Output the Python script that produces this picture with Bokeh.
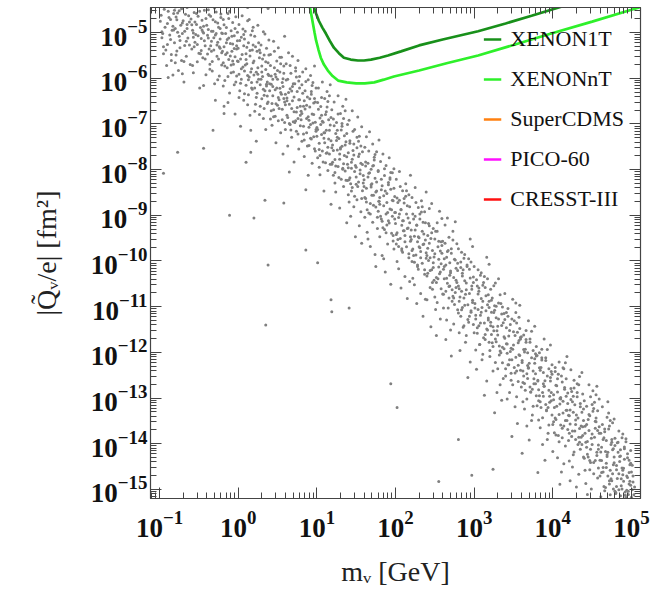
import numpy as np
from bokeh.plotting import figure
from bokeh.models import (LogAxis, Legend, LegendItem, Range1d, FixedTicker,
                          CustomJSTickFormatter)
from bokeh.embed import file_html
from bokeh.resources import INLINE

# ---------------- data (log10 values) ----------------
# exclusion curves: log10(m_V / GeV), log10(|Q_V/e| / fm^2)
xenon1t_log_m = [0.935, 0.96, 0.99, 1.025, 1.07, 1.115, 1.165, 1.217, 1.28, 1.344, 1.43,
                 1.522, 1.60, 1.688, 1.80, 1.904, 2.07, 2.30, 2.60, 3.05, 3.40, 3.73, 4.15, 4.40]
xenon1t_log_q = [-3.90, -4.43, -4.58, -4.74, -4.89, -5.02, -5.18, -5.33, -5.45, -5.55, -5.59,
                 -5.61, -5.61, -5.59, -5.55, -5.50, -5.41, -5.28, -5.15, -4.97, -4.80, -4.63, -4.41, -4.28]
xenonnt_log_m = [0.88, 0.91, 0.93, 0.95, 0.97, 0.99, 1.02, 1.05, 1.09, 1.14, 1.20, 1.27, 1.38,
                 1.50, 1.61, 1.73, 1.85, 1.98, 2.30, 2.65, 3.05, 3.50, 3.98, 4.50, 5.00, 5.13]
xenonnt_log_q = [-3.90, -4.43, -4.61, -4.80, -4.99, -5.17, -5.37, -5.55, -5.70, -5.83, -5.95, -6.05, -6.09,
                 -6.11, -6.11, -6.09, -6.03, -5.96, -5.83, -5.67, -5.50, -5.27, -5.02, -4.76, -4.50, -4.43]
supercdms_log_m, supercdms_log_q = [], []
pico60_log_m, pico60_log_q = [], []
cresst_log_m, cresst_log_q = [], []

legend_labels = ["XENON1T", "XENONnT", "SuperCDMS", "PICO-60", "CRESST-III"]

x_tick_exponents = [-1, 0, 1, 2, 3, 4, 5]
y_tick_exponents = [-15, -14, -13, -12, -11, -10, -9, -8, -7, -6, -5]

# parameter-scan points (log10 m, log10 Q), grouped by mass decade
scan_a = [(-0.98,-4.62),(-0.95,-5.31),(-0.93,-4.88),(-0.91,-5.72),(-0.89,-4.53),(-0.87,-5.05),(-0.86,-4.71),
          (-0.85,-5.48),(-0.84,-4.95),(-0.83,-5.93),(-0.82,-4.58),(-0.81,-5.22),(-0.97,-5.11),(-0.90,-4.80),
          (-0.79,-4.66),(-0.78,-5.40),(-0.77,-4.99),(-0.76,-5.83),(-0.75,-4.52),(-0.74,-5.17),(-0.73,-4.84),
          (-0.72,-5.61),(-0.71,-5.02),(-0.70,-4.74),(-0.69,-6.08),(-0.68,-5.28),(-0.67,-4.60),(-0.66,-5.52),
          (-0.65,-4.91),(-0.64,-5.12),(-0.62,-4.77),(-0.61,-5.70),
          (-0.60,-4.70),(-0.59,-5.36),(-0.58,-4.95),(-0.57,-5.88),(-0.56,-4.56),(-0.55,-5.21),(-0.54,-5.04),
          (-0.53,-4.82),(-0.52,-5.64),(-0.51,-4.64),(-0.50,-5.45),(-0.49,-6.21),(-0.48,-4.89),(-0.47,-5.13),
          (-0.46,-4.73),(-0.45,-5.55),(-0.44,-5.01),(-0.43,-4.51),(-0.42,-5.29),(-0.41,-5.92),(-0.57,-5.10),
          (-0.45,-4.98),
          (-0.40,-4.84),(-0.39,-5.47),(-0.38,-5.12),(-0.37,-4.61),(-0.36,-5.80),(-0.35,-5.29),(-0.34,-4.97),
          (-0.33,-5.63),(-0.32,-4.72),(-0.31,-5.38),(-0.30,-6.12),(-0.29,-5.05),(-0.28,-4.55),(-0.27,-5.52),
          (-0.26,-5.21),(-0.25,-4.88),(-0.24,-5.95),(-0.23,-5.34),(-0.22,-4.67),(-0.21,-5.71),(-0.38,-4.93),
          (-0.34,-5.41),(-0.29,-6.48),(-0.26,-4.79),(-0.23,-5.14),(-0.21,-5.01),
          (-0.20,-5.02),(-0.19,-5.66),(-0.19,-4.71),(-0.18,-5.31),(-0.17,-6.05),(-0.16,-5.48),(-0.15,-4.89),
          (-0.14,-5.77),(-0.14,-5.15),(-0.13,-4.58),(-0.12,-5.59),(-0.11,-6.32),(-0.10,-5.24),(-0.09,-4.96),
          (-0.09,-5.88),(-0.08,-5.41),(-0.07,-4.78),(-0.06,-5.69),(-0.05,-6.14),(-0.05,-5.07),(-0.04,-5.53),
          (-0.03,-4.65),(-0.02,-5.36),(-0.02,-5.95),(-0.01,-4.99),(-0.18,-6.61),(-0.12,-5.12),(-0.07,-5.25),
          (-0.04,-6.78),(-0.01,-5.62)]
scan_b = [(0.00,-5.34),(0.01,-5.91),(0.01,-4.82),(0.02,-6.27),(0.03,-5.58),(0.04,-5.10),(0.04,-6.02),
          (0.05,-4.63),(0.06,-5.75),(0.07,-6.48),(0.07,-5.29),(0.08,-5.84),(0.09,-4.97),(0.10,-6.15),
          (0.10,-5.46),(0.11,-5.68),(0.12,-4.74),(0.13,-6.36),(0.13,-5.22),(0.14,-5.97),(0.15,-5.51),
          (0.15,-6.81),(0.16,-5.05),(0.17,-5.79),(0.17,-6.09),(0.18,-5.38),(0.19,-4.88),(0.19,-5.66),
          (0.03,-7.05),(0.08,-5.14),(0.12,-6.58),(0.18,-6.24),
          (0.20,-5.62),(0.21,-6.21),(0.21,-5.08),(0.22,-6.57),(0.23,-5.87),(0.24,-5.41),(0.24,-6.33),
          (0.25,-4.84),(0.26,-6.02),(0.27,-6.79),(0.27,-5.55),(0.28,-6.14),(0.29,-5.27),(0.30,-6.45),
          (0.30,-5.73),(0.31,-5.96),(0.32,-4.98),(0.33,-6.66),(0.33,-5.49),(0.34,-6.27),(0.35,-5.81),
          (0.35,-7.12),(0.36,-5.34),(0.37,-6.08),(0.37,-6.39),(0.38,-5.66),(0.39,-5.16),(0.39,-5.94),
          (0.23,-7.38),(0.28,-5.44),(0.32,-6.88),(0.38,-6.52),(0.25,-5.91),(0.36,-6.17),
          (0.40,-6.12),(0.41,-5.48),(0.42,-6.71),(0.42,-5.95),(0.43,-7.03),(0.44,-6.38),(0.45,-5.19),
          (0.45,-6.84),(0.46,-5.77),(0.47,-6.25),(0.48,-7.41),(0.48,-6.56),(0.49,-5.62),(0.50,-6.02),
          (0.51,-6.93),(0.51,-5.33),(0.52,-6.47),(0.53,-5.86),(0.54,-7.19),(0.54,-6.31),(0.55,-5.54),
          (0.56,-6.68),(0.56,-6.09),(0.57,-7.66),(0.58,-5.73),(0.58,-6.44),(0.59,-5.08),(0.59,-6.97),
          (0.44,-6.18),(0.47,-5.91),(0.50,-6.59),(0.53,-6.22),(0.57,-6.01),(0.41,-6.89),
          (0.60,-6.35),(0.60,-7.12),(0.61,-5.68),(0.62,-6.81),(0.63,-6.02),(0.63,-7.48),(0.64,-5.44),
          (0.65,-6.57),(0.66,-7.01),(0.66,-6.23),(0.67,-5.89),(0.68,-7.29),(0.68,-6.66),(0.69,-5.52),
          (0.70,-6.95),(0.71,-6.41),(0.71,-7.83),(0.72,-6.12),(0.73,-5.77),(0.74,-6.74),(0.74,-7.16),
          (0.75,-6.29),(0.76,-5.61),(0.76,-6.88),(0.77,-7.55),(0.78,-6.47),(0.78,-5.96),(0.79,-7.04),
          (0.62,-6.49),(0.65,-8.05),(0.69,-6.18),(0.73,-6.93),(0.77,-6.06),(0.79,-6.61),
          (0.80,-6.72),(0.81,-6.14),(0.81,-7.38),(0.82,-5.86),(0.83,-7.05),(0.84,-6.49),(0.84,-7.71),
          (0.85,-6.27),(0.86,-5.79),(0.87,-7.19),(0.87,-6.88),(0.88,-6.41),(0.89,-8.12),(0.89,-6.03),
          (0.90,-7.47),(0.91,-6.63),(0.92,-5.94),(0.92,-7.01),(0.93,-6.35),(0.94,-7.86),(0.94,-6.78),
          (0.95,-6.09),(0.96,-7.28),(0.96,-6.54),(0.97,-5.73),(0.98,-6.96),(0.98,-7.59),(0.99,-6.21),
          (0.83,-6.61),(0.86,-8.44),(0.90,-6.92),(0.93,-7.33),(0.97,-6.44),(0.99,-7.12)]
scan_c = [(1.00,-7.08),(1.01,-6.53),(1.01,-7.74),(1.02,-6.21),(1.03,-7.42),(1.04,-6.87),(1.04,-8.11),
          (1.05,-6.62),(1.06,-7.23),(1.07,-6.08),(1.07,-7.59),(1.08,-6.96),(1.09,-8.47),(1.09,-7.31),
          (1.10,-6.44),(1.11,-7.85),(1.12,-6.73),(1.12,-7.14),(1.13,-6.29),(1.14,-8.02),(1.14,-7.51),
          (1.15,-6.91),(1.16,-7.66),(1.16,-6.38),(1.17,-7.02),(1.18,-8.76),(1.18,-7.37),(1.19,-6.69),
          (1.03,-7.95),(1.06,-6.81),(1.10,-7.19),(1.13,-7.63),(1.17,-6.14),(1.19,-7.88),
          (1.20,-7.46),(1.21,-6.89),(1.21,-8.12),(1.22,-6.52),(1.23,-7.78),(1.24,-7.21),(1.24,-8.49),
          (1.25,-6.97),(1.26,-7.57),(1.27,-6.38),(1.27,-7.93),(1.28,-7.32),(1.29,-8.84),(1.29,-7.66),
          (1.30,-6.77),(1.31,-8.21),(1.32,-7.05),(1.32,-7.49),(1.33,-6.61),(1.34,-8.37),(1.34,-7.87),
          (1.35,-7.26),(1.36,-8.03),(1.36,-6.71),(1.37,-7.39),(1.38,-9.16),(1.38,-7.72),(1.39,-7.01),
          (1.23,-8.29),(1.26,-7.14),(1.30,-7.55),(1.33,-7.99),(1.37,-6.46),(1.39,-8.24),
          (1.40,-7.63),(1.40,-8.55),(1.41,-6.92),(1.42,-8.18),(1.42,-7.37),(1.43,-9.02),(1.44,-7.84),
          (1.45,-6.71),(1.45,-8.39),(1.46,-7.58),(1.47,-8.81),(1.48,-7.12),(1.48,-8.04),(1.49,-9.47),
          (1.50,-7.95),(1.51,-7.29),(1.51,-8.66),(1.52,-6.85),(1.53,-8.27),(1.53,-7.71),(1.54,-9.23),
          (1.55,-8.01),(1.56,-7.48),(1.56,-8.92),(1.57,-7.06),(1.58,-8.46),(1.58,-7.89),(1.59,-8.13),
          (1.41,-8.71),(1.44,-7.97),(1.47,-7.44),(1.50,-8.32),(1.54,-7.66),(1.57,-9.61),
          (1.60,-8.22),(1.61,-7.51),(1.61,-9.04),(1.62,-8.63),(1.63,-7.28),(1.63,-8.41),(1.64,-9.37),
          (1.65,-7.86),(1.66,-8.95),(1.66,-8.08),(1.67,-7.17),(1.68,-8.74),(1.68,-9.68),(1.69,-7.99),
          (1.70,-8.31),(1.71,-7.44),(1.71,-9.15),(1.72,-8.56),(1.73,-7.73),(1.74,-8.19),(1.74,-9.86),
          (1.75,-8.82),(1.76,-7.61),(1.76,-8.47),(1.77,-9.29),(1.78,-8.04),(1.79,-7.35),(1.79,-8.69),
          (1.62,-7.92),(1.65,-9.52),(1.69,-8.38),(1.72,-7.91),(1.75,-10.12),(1.78,-8.91),
          (1.80,-8.61),(1.80,-9.47),(1.81,-7.82),(1.82,-9.08),(1.83,-8.35),(1.83,-9.88),(1.84,-7.66),
          (1.85,-8.79),(1.86,-9.31),(1.86,-8.13),(1.87,-10.24),(1.88,-8.97),(1.88,-7.91),(1.89,-8.52),
          (1.90,-9.63),(1.91,-8.28),(1.91,-9.12),(1.92,-7.74),(1.93,-8.86),(1.94,-10.51),(1.94,-8.43),
          (1.95,-9.39),(1.96,-8.07),(1.96,-9.02),(1.97,-8.68),(1.98,-7.98),(1.98,-9.74),(1.99,-8.59),
          (1.82,-8.44),(1.85,-9.95),(1.89,-9.21),(1.93,-8.21),(1.97,-9.56),(1.99,-8.94)]
scan_d = [(2.00,-8.94),(2.01,-9.63),(2.01,-8.21),(2.02,-9.38),(2.03,-8.72),(2.04,-10.17),(2.04,-9.05),
          (2.05,-8.04),(2.06,-9.51),(2.07,-8.88),(2.07,-10.59),(2.08,-9.22),(2.09,-8.46),(2.09,-9.81),
          (2.10,-9.12),(2.11,-8.63),(2.12,-10.34),(2.12,-9.44),(2.13,-8.31),(2.14,-9.69),(2.14,-8.97),
          (2.15,-10.82),(2.16,-9.28),(2.17,-8.55),(2.17,-9.93),(2.18,-9.16),(2.19,-8.12),(2.19,-9.57),
          (2.02,-10.01),(2.05,-8.67),(2.08,-9.73),(2.11,-9.34),(2.15,-8.79),(2.18,-10.45),
          (2.20,-9.32),(2.21,-10.01),(2.21,-8.61),(2.22,-9.74),(2.23,-9.08),(2.24,-10.52),(2.24,-9.46),
          (2.25,-8.39),(2.26,-9.87),(2.27,-9.21),(2.27,-10.93),(2.28,-9.58),(2.29,-8.83),(2.29,-10.18),
          (2.30,-9.49),(2.31,-8.97),(2.32,-10.71),(2.32,-9.79),(2.33,-8.68),(2.34,-10.05),(2.34,-9.35),
          (2.35,-11.21),(2.36,-9.63),(2.37,-8.92),(2.37,-10.29),(2.38,-9.54),(2.39,-8.49),(2.39,-9.94),
          (2.22,-10.38),(2.25,-9.02),(2.28,-10.09),(2.31,-9.71),(2.35,-9.15),(2.38,-10.84),
          (2.41,-10.27),(2.43,-9.61),(2.40,-10.85),(2.46,-8.74),(2.44,-9.93),(2.49,-10.42),(2.42,-9.18),
          (2.51,-11.06),(2.47,-9.77),(2.55,-10.13),(2.53,-9.35),(2.58,-10.61),(2.45,-11.44),(2.50,-9.52),
          (2.56,-8.91),(2.48,-10.04),(2.59,-9.83),(2.52,-10.36),(2.57,-11.27),(2.44,-10.58),(2.54,-9.69),
          (2.41,-9.44),(2.46,-10.19),(2.59,-9.07),(2.50,-10.79),(2.43,-8.85),(2.55,-9.96),(2.52,-11.63),
          (2.48,-9.29),(2.57,-10.24),(2.40,-9.88),(2.53,-10.91),(2.47,-10.47),(2.58,-9.58),
          (2.62,-10.12),(2.68,-10.81),(2.60,-9.57),(2.74,-10.36),(2.65,-11.29),(2.71,-9.83),(2.77,-10.58),
          (2.63,-9.21),(2.69,-10.04),(2.79,-11.07),(2.66,-10.49),(2.73,-9.35),(2.61,-10.73),(2.76,-9.98),
          (2.64,-11.72),(2.70,-10.26),(2.78,-9.62),(2.67,-9.77),(2.75,-10.95),(2.72,-10.63),(2.62,-9.95),
          (2.79,-10.21),(2.65,-10.38),(2.70,-11.51),(2.76,-9.14),(2.68,-9.48),(2.73,-10.77),(2.61,-11.03),
          (2.77,-10.42),(2.64,-10.09),(2.71,-12.08),(2.66,-9.06),(2.74,-11.38),(2.69,-10.55),
          (2.80,-10.55),(2.83,-11.21),(2.87,-9.94),(2.81,-10.88),(2.90,-11.63),(2.85,-10.27),(2.94,-10.71),
          (2.98,-9.68),(2.82,-11.96),(2.88,-10.43),(2.96,-11.12),(2.84,-9.81),(2.92,-10.96),(2.99,-10.35),
          (2.86,-11.45),(2.91,-10.09),(2.95,-9.52),(2.89,-11.78),(2.97,-10.62),(2.83,-10.14),(2.93,-11.34),
          (2.80,-9.73),(2.87,-10.81),(2.95,-12.21),(2.90,-10.48),(2.85,-11.02),(2.98,-10.91),(2.81,-11.57),
          (2.94,-10.18),(2.88,-9.86),(2.92,-12.55),(2.96,-10.02),(2.84,-10.66),(2.99,-11.39)]
scan_e = [(3.01,-10.93),(3.04,-11.58),(3.08,-10.31),(3.02,-11.27),(3.11,-12.04),(3.06,-10.66),(3.15,-11.09),
          (3.19,-10.07),(3.03,-12.37),(3.09,-10.82),(3.17,-11.51),(3.05,-10.19),(3.13,-11.36),(3.18,-10.74),
          (3.07,-11.83),(3.12,-10.47),(3.16,-9.92),(3.10,-12.16),(3.19,-11.02),(3.04,-10.55),(3.14,-11.72),
          (3.00,-10.12),(3.08,-11.19),(3.16,-12.63),(3.11,-10.88),(3.06,-11.42),(3.18,-11.29),(3.02,-11.95),
          (3.14,-10.58),(3.09,-10.26),(3.13,-12.94),(3.17,-10.39),(3.05,-11.06),(3.19,-11.78),
          (3.21,-11.34),(3.27,-10.48),(3.33,-11.97),(3.24,-12.41),(3.38,-11.15),(3.22,-10.86),(3.30,-11.62),
          (3.36,-12.23),(3.26,-11.08),(3.39,-10.71),(3.29,-12.88),(3.23,-11.79),(3.35,-11.41),(3.31,-10.39),
          (3.25,-11.53),(3.37,-12.57),(3.28,-11.24),(3.20,-12.09),(3.34,-10.93),(3.32,-11.86),(3.26,-13.32),
          (3.39,-11.69),(3.21,-10.62),(3.33,-12.71),(3.28,-10.99),(3.36,-11.01),(3.24,-11.44),(3.30,-12.36),
          (3.38,-11.92),(3.22,-11.12),(3.35,-13.05),(3.27,-11.71),(3.31,-11.27),(3.25,-10.54),
          (3.42,-11.82),(3.47,-12.46),(3.41,-11.13),(3.53,-12.11),(3.58,-10.97),(3.45,-12.88),(3.50,-11.55),
          (3.56,-12.64),(3.43,-12.27),(3.49,-10.84),(3.59,-11.71),(3.52,-13.19),(3.46,-11.98),(3.54,-11.36),
          (3.40,-12.52),(3.57,-12.05),(3.48,-11.27),(3.55,-13.56),(3.44,-11.64),(3.51,-12.33),(3.58,-11.48),
          (3.42,-13.02),(3.47,-11.91),(3.53,-10.92),(3.49,-12.71),(3.56,-11.79),(3.41,-11.46),(3.59,-12.39),
          (3.45,-12.16),(3.52,-11.63),(3.48,-13.84),(3.54,-12.97),(3.43,-11.04),(3.57,-11.23),
          (3.61,-12.18),(3.66,-11.52),(3.72,-12.87),(3.64,-13.24),(3.78,-12.03),(3.69,-11.31),(3.62,-12.66),
          (3.75,-12.41),(3.67,-13.61),(3.71,-11.78),(3.79,-12.95),(3.63,-11.94),(3.74,-13.37),(3.68,-12.29),
          (3.60,-11.66),(3.77,-11.43),(3.65,-12.83),(3.73,-12.12),(3.70,-13.92),(3.76,-12.58),(3.62,-13.08),
          (3.79,-11.87),(3.67,-12.47),(3.71,-12.76),(3.64,-11.99),(3.75,-13.18),(3.69,-12.35),(3.61,-14.21),
          (3.77,-12.24),(3.66,-11.72),(3.73,-13.49),(3.68,-12.01),(3.63,-12.52),(3.78,-12.69),
          (3.81,-12.61),(3.86,-11.93),(3.92,-13.28),(3.84,-13.65),(3.98,-12.42),(3.89,-11.71),(3.82,-13.06),
          (3.95,-12.83),(3.87,-14.02),(3.91,-12.18),(3.99,-13.37),(3.83,-12.34),(3.94,-13.77),(3.88,-12.69),
          (3.80,-12.07),(3.97,-11.84),(3.85,-13.21),(3.93,-12.52),(3.90,-14.36),(3.96,-12.96),(3.82,-13.48),
          (3.99,-12.27),(3.87,-12.88),(3.91,-13.14),(3.84,-12.39),(3.95,-13.59),(3.89,-12.74),(3.81,-14.63),
          (3.97,-12.63),(3.86,-12.12),(3.93,-13.91),(3.88,-12.44),(3.83,-12.95),(3.98,-13.06)]
scan_f = [(4.03,-13.44),(4.17,-12.58),(4.08,-12.21),(4.12,-13.87),(4.01,-12.93),(4.19,-13.12),(4.06,-14.31),
          (4.14,-12.36),(4.10,-13.59),(4.04,-12.72),(4.16,-14.05),(4.09,-13.01),(4.02,-13.76),(4.18,-12.09),
          (4.13,-13.33),(4.07,-12.48),(4.11,-14.62),(4.05,-13.18),(4.15,-12.81),(4.00,-14.17),(4.19,-13.69),
          (4.08,-13.96),(4.12,-12.65),(4.03,-12.33),(4.17,-13.27),(4.06,-12.87),(4.14,-14.44),(4.10,-12.99),
          (4.01,-13.52),(4.16,-12.23),(4.09,-14.89),(4.04,-13.81),(4.13,-13.07),(4.18,-13.49),
          (4.22,-13.26),(4.35,-14.12),(4.27,-12.61),(4.39,-13.49),(4.21,-14.38),(4.31,-12.97),(4.25,-13.72),
          (4.37,-12.44),(4.29,-13.91),(4.24,-12.86),(4.33,-14.67),(4.20,-13.38),(4.38,-13.82),(4.28,-13.15),
          (4.34,-12.53),(4.26,-14.24),(4.36,-13.61),(4.23,-13.03),(4.30,-14.95),(4.32,-13.44),(4.27,-12.78),
          (4.39,-14.29),(4.21,-13.77),(4.35,-13.19),(4.25,-14.51),(4.31,-12.69),(4.29,-13.58),(4.37,-14.02),
          (4.23,-12.38),(4.33,-13.86),(4.26,-13.31),(4.38,-12.91),(4.22,-14.81),(4.34,-13.67),
          (4.41,-13.62),(4.48,-14.41),(4.55,-12.93),(4.43,-14.08),(4.59,-13.77),(4.46,-12.71),(4.52,-14.66),
          (4.57,-13.28),(4.44,-13.95),(4.50,-13.14),(4.58,-14.53),(4.42,-14.87),(4.54,-13.51),(4.47,-13.39),
          (4.56,-14.19),(4.40,-13.06),(4.51,-12.84),(4.49,-14.99),(4.53,-13.86),(4.45,-14.29),(4.59,-13.02),
          (4.43,-13.58),(4.57,-14.75),(4.50,-14.02),(4.46,-13.71),(4.55,-13.44),(4.41,-14.58),(4.52,-13.23),
          (4.48,-12.97),(4.58,-14.12),(4.44,-15.11),(4.54,-13.66),(4.47,-14.37),(4.56,-12.74),
          (4.62,-14.08),(4.69,-13.42),(4.75,-14.81),(4.61,-13.77),(4.78,-14.29),(4.66,-15.03),(4.72,-13.61),
          (4.64,-14.52),(4.79,-13.88),(4.67,-14.17),(4.73,-15.12),(4.60,-14.36),(4.76,-13.54),(4.70,-14.71),
          (4.63,-13.19),(4.77,-14.46),(4.68,-13.93),(4.74,-14.02),(4.65,-14.94),(4.71,-13.33),(4.79,-15.04),
          (4.62,-14.63),(4.75,-13.97),(4.66,-13.68),(4.72,-14.88),(4.69,-14.24),(4.78,-13.46),(4.64,-13.91),
          (4.73,-14.58),(4.61,-15.16),(4.76,-14.13),(4.68,-14.43),(4.70,-13.08),(4.77,-14.99),
          (4.81,-14.48),(4.88,-13.87),(4.94,-15.02),(4.83,-14.19),(4.97,-14.63),(4.86,-15.14),(4.91,-14.34),
          (4.84,-13.72),(4.99,-14.91),(4.87,-14.77),(4.93,-13.96),(4.80,-15.09),(4.95,-14.22),(4.89,-14.58),
          (4.82,-13.98),(4.96,-15.11),(4.90,-14.82),(4.85,-14.39),(4.98,-14.46),(4.92,-15.06),(4.84,-14.66),
          (4.89,-13.79),(4.95,-14.74),(4.81,-14.94),(4.91,-14.11),(4.97,-14.88),(4.86,-14.27),(4.93,-15.18),
          (4.88,-14.53),(4.99,-14.15),
          (5.00,-14.62),(5.01,-15.01),(5.02,-14.84),(5.03,-15.12),(5.01,-14.47),(5.04,-14.95),(5.00,-15.17),
          (5.02,-14.71)]
scan_core_low = [(-0.99,-4.75),(-0.96,-5.02),(-0.94,-4.49),(-0.92,-5.38),(-0.88,-4.67),(-0.86,-5.15),(-0.83,-4.86),
          (-0.81,-4.51),(-0.97,-4.98),(-0.85,-5.61),(-0.90,-5.26),(-0.82,-4.94),
          (-0.80,-4.91),(-0.77,-4.57),(-0.74,-5.33),(-0.71,-4.79),(-0.68,-4.97),(-0.66,-5.19),(-0.63,-4.63),
          (-0.79,-5.49),(-0.75,-5.08),(-0.72,-4.48),(-0.69,-5.63),(-0.65,-4.82),(-0.62,-5.27),(-0.78,-4.72),
          (-0.59,-4.83),(-0.56,-5.31),(-0.53,-4.58),(-0.51,-5.07),(-0.48,-5.46),(-0.46,-4.94),(-0.43,-5.18),
          (-0.41,-4.69),(-0.58,-5.72),(-0.55,-4.77),(-0.52,-5.26),(-0.49,-4.53),(-0.47,-5.39),(-0.44,-4.86),
          (-0.42,-5.58),(-0.57,-5.01),
          (-0.39,-5.06),(-0.37,-5.36),(-0.35,-4.64),(-0.33,-5.84),(-0.31,-5.11),(-0.29,-4.76),(-0.27,-5.27),
          (-0.25,-5.58),(-0.23,-4.91),(-0.21,-5.44),(-0.38,-4.50),(-0.36,-5.69),(-0.34,-5.19),(-0.32,-4.97),
          (-0.28,-5.02),(-0.26,-6.03),(-0.24,-5.31),(-0.22,-4.59),
          (-0.20,-5.41),(-0.18,-4.83),(-0.17,-5.73),(-0.15,-5.22),(-0.13,-5.96),(-0.12,-4.69),(-0.10,-5.51),
          (-0.08,-5.08),(-0.06,-5.86),(-0.04,-4.91),(-0.02,-5.29),(-0.19,-6.17),(-0.16,-5.02),(-0.14,-5.44),
          (-0.11,-4.53),(-0.07,-5.62),(-0.05,-5.35),(-0.03,-6.08),(-0.01,-5.18),(-0.09,-5.71),
          (0.00,-5.63),(0.02,-5.17),(0.03,-6.11),(0.05,-5.48),(0.06,-4.92),(0.08,-6.34),(0.09,-5.71),
          (0.11,-5.32),(0.12,-5.94),(0.14,-4.71),(0.16,-5.86),(0.17,-6.21),(0.19,-5.27),(0.01,-6.42),
          (0.04,-5.79),(0.07,-5.04),(0.10,-5.59),(0.13,-6.03),(0.15,-5.39),(0.18,-4.96),
          (0.20,-5.93),(0.22,-5.31),(0.23,-6.42),(0.25,-5.77),(0.26,-5.22),(0.28,-6.61),(0.29,-6.02),
          (0.31,-5.58),(0.32,-6.24),(0.34,-5.03),(0.36,-6.13),(0.37,-6.55),(0.39,-5.49),(0.21,-6.72),
          (0.24,-6.08),(0.27,-5.38),(0.30,-5.86),(0.33,-6.37),(0.35,-5.64),(0.38,-5.91),
          (0.40,-6.27),(0.41,-5.72),(0.43,-6.55),(0.44,-6.02),(0.46,-5.41),(0.47,-6.83),(0.49,-6.21),
          (0.50,-5.83),(0.52,-6.66),(0.53,-5.54),(0.55,-6.35),(0.56,-6.91),(0.58,-5.89),(0.42,-6.13),
          (0.45,-6.69),(0.48,-5.97),(0.51,-6.42),(0.54,-5.68),(0.57,-6.18),(0.59,-6.52),
          (0.60,-6.58),(0.61,-6.04),(0.63,-6.86),(0.64,-6.31),(0.66,-5.72),(0.67,-7.13),(0.69,-6.49),
          (0.70,-6.12),(0.72,-6.97),(0.73,-5.84),(0.75,-6.64),(0.76,-7.22),(0.78,-6.21),(0.62,-6.43),
          (0.65,-6.99),(0.68,-6.28),(0.71,-6.73),(0.74,-5.97),(0.77,-6.47),(0.79,-6.81),
          (0.80,-6.91),(0.82,-6.33),(0.83,-7.22),(0.85,-6.67),(0.86,-6.07),(0.88,-7.48),(0.89,-6.84),
          (0.91,-6.45),(0.92,-7.31),(0.94,-6.16),(0.95,-6.98),(0.97,-7.54),(0.98,-6.52),(0.81,-6.77),
          (0.84,-7.35),(0.87,-6.59),(0.90,-7.07),(0.93,-6.29),(0.96,-6.79),(0.99,-7.16)]
scan_core_mid = [(1.00,-7.27),(1.02,-6.68),(1.03,-7.56),(1.05,-7.01),(1.06,-6.42),(1.08,-7.83),(1.09,-7.19),
          (1.11,-6.79),(1.12,-7.64),(1.14,-6.51),(1.15,-7.33),(1.17,-7.88),(1.18,-6.86),(1.01,-7.12),
          (1.04,-7.69),(1.07,-6.94),(1.10,-7.41),(1.13,-6.63),(1.16,-7.14),(1.19,-7.52),
          (1.21,-7.58),(1.22,-7.04),(1.24,-7.92),(1.25,-7.36),(1.27,-6.78),(1.28,-8.17),(1.30,-7.52),
          (1.31,-7.13),(1.33,-7.97),(1.34,-6.88),(1.35,-7.69),(1.37,-8.23),(1.38,-7.21),(1.20,-7.84),
          (1.23,-8.06),(1.26,-7.29),(1.29,-7.77),(1.32,-6.99),(1.36,-7.46),(1.39,-7.88),
          (1.40,-7.96),(1.42,-7.42),(1.43,-8.31),(1.45,-7.77),(1.46,-7.16),(1.48,-8.58),(1.49,-7.91),
          (1.51,-7.52),(1.52,-8.37),(1.54,-7.27),(1.55,-8.09),(1.57,-8.63),(1.58,-7.61),(1.41,-8.22),
          (1.44,-8.47),(1.47,-7.68),(1.50,-8.16),(1.53,-7.38),(1.56,-7.86),(1.59,-8.29),
          (1.60,-8.37),(1.62,-7.83),(1.63,-8.71),(1.65,-8.16),(1.66,-7.59),(1.68,-8.97),(1.69,-8.33),
          (1.71,-7.92),(1.72,-8.78),(1.74,-7.67),(1.75,-8.49),(1.77,-9.04),(1.78,-8.02),(1.61,-8.61),
          (1.64,-8.88),(1.67,-8.07),(1.70,-8.56),(1.73,-7.79),(1.76,-8.27),(1.79,-8.69),
          (1.80,-8.76),(1.82,-8.21),(1.83,-9.13),(1.85,-8.57),(1.86,-7.98),(1.88,-9.38),(1.89,-8.72),
          (1.91,-8.33),(1.92,-9.17),(1.94,-8.06),(1.95,-8.88),(1.97,-9.44),(1.98,-8.41),(1.81,-9.02),
          (1.84,-9.27),(1.87,-8.47),(1.90,-8.94),(1.93,-8.18),(1.96,-8.67),(1.99,-9.08),
          (2.00,-9.18),(2.02,-8.62),(2.03,-9.53),(2.05,-8.97),(2.06,-8.37),(2.08,-9.77),(2.09,-9.12),
          (2.11,-8.73),(2.12,-9.58),(2.14,-8.46),(2.15,-9.29),(2.17,-9.84),(2.18,-8.81),(2.01,-9.42),
          (2.04,-9.68),(2.07,-8.87),(2.10,-9.34),(2.13,-8.58),(2.16,-9.06),(2.19,-9.47),
          (2.20,-9.53),(2.22,-8.97),(2.23,-9.88),(2.25,-9.32),(2.26,-8.72),(2.28,-10.12),(2.29,-9.47),
          (2.31,-9.08),(2.32,-9.93),(2.34,-8.81),(2.35,-9.64),(2.37,-10.19),(2.38,-9.16),(2.21,-9.77),
          (2.24,-10.03),(2.27,-9.22),(2.30,-9.69),(2.33,-8.93),(2.36,-9.41),(2.39,-9.82),
          (2.41,-9.72),(2.44,-10.21),(2.46,-9.38),(2.49,-9.91),(2.52,-10.47),(2.55,-9.57),(2.58,-10.06),
          (2.40,-10.33),(2.43,-9.23),(2.47,-10.62),(2.50,-9.84),(2.53,-9.16),(2.56,-10.28),(2.59,-9.66),
          (2.42,-9.99),(2.45,-9.51),(2.48,-10.14),(2.51,-9.35),(2.54,-10.39),(2.57,-9.78),
          (2.61,-10.18),(2.64,-10.66),(2.66,-9.79),(2.69,-10.31),(2.72,-10.88),(2.75,-9.96),(2.78,-10.47),
          (2.60,-10.72),(2.63,-9.61),(2.67,-11.03),(2.70,-10.22),(2.73,-9.54),(2.76,-10.69),(2.79,-10.05),
          (2.62,-10.39),(2.65,-9.92),(2.68,-10.56),(2.71,-9.73),(2.74,-10.81),(2.77,-10.16),
          (2.81,-10.61),(2.84,-11.07),(2.86,-10.19),(2.89,-10.73),(2.92,-11.28),(2.95,-10.37),(2.98,-10.86),
          (2.80,-11.14),(2.83,-10.02),(2.87,-11.42),(2.90,-10.63),(2.93,-9.95),(2.96,-11.09),(2.99,-10.47),
          (2.82,-10.79),(2.85,-10.33),(2.88,-10.97),(2.91,-10.12),(2.94,-11.21),(2.97,-10.55)]
scan_core_high = [(3.01,-11.03),(3.04,-11.46),(3.06,-10.59),(3.09,-11.12),(3.12,-11.68),(3.15,-10.76),(3.18,-11.25),
          (3.00,-11.57),(3.03,-10.41),(3.07,-11.83),(3.10,-11.02),(3.13,-10.34),(3.16,-11.49),(3.19,-10.88),
          (3.02,-11.19),(3.05,-10.72),(3.08,-11.36),(3.11,-10.53),(3.14,-11.61),(3.17,-10.96),
          (3.21,-11.42),(3.24,-11.87),(3.26,-10.98),(3.29,-11.53),(3.32,-12.06),(3.35,-11.16),(3.38,-11.66),
          (3.20,-11.96),(3.23,-10.81),(3.27,-12.22),(3.30,-11.43),(3.33,-10.74),(3.36,-11.89),(3.39,-11.28),
          (3.22,-11.61),(3.25,-11.13),(3.28,-11.77),(3.31,-10.92),(3.34,-12.01),(3.37,-11.35),
          (3.41,-11.81),(3.44,-12.27),(3.46,-11.39),(3.49,-11.93),(3.52,-12.45),(3.55,-11.56),(3.58,-12.07),
          (3.40,-12.36),(3.43,-11.21),(3.47,-12.61),(3.50,-11.84),(3.53,-11.13),(3.56,-12.28),(3.59,-11.67),
          (3.42,-12.02),(3.45,-11.52),(3.48,-12.16),(3.51,-11.31),(3.54,-12.41),(3.57,-11.74),
          (3.61,-12.22),(3.64,-12.68),(3.66,-11.78),(3.69,-12.33),(3.72,-12.87),(3.75,-11.96),(3.78,-12.47),
          (3.60,-12.76),(3.63,-11.62),(3.67,-13.02),(3.70,-12.24),(3.73,-11.54),(3.76,-12.69),(3.79,-12.08),
          (3.62,-12.41),(3.65,-11.93),(3.68,-12.57),(3.71,-11.71),(3.74,-12.81),(3.77,-12.14),
          (3.81,-12.63),(3.84,-13.08),(3.86,-12.17),(3.89,-12.74),(3.92,-13.26),(3.95,-12.36),(3.98,-12.88),
          (3.80,-13.17),(3.83,-12.01),(3.87,-13.43),(3.90,-12.62),(3.93,-11.94),(3.96,-13.09),(3.99,-12.48),
          (3.82,-12.82),(3.85,-12.33),(3.88,-12.96),(3.91,-12.12),(3.94,-13.21),(3.97,-12.55),
          (4.01,-13.04),(4.04,-13.47),(4.06,-12.58),(4.09,-13.13),(4.12,-13.66),(4.15,-12.77),(4.18,-13.27),
          (4.00,-13.58),(4.03,-12.42),(4.07,-13.82),(4.10,-13.02),(4.13,-12.34),(4.16,-13.49),(4.19,-12.89),
          (4.02,-13.21),(4.05,-12.73),(4.08,-13.36),(4.11,-12.52),(4.14,-13.61),(4.17,-12.96),
          (4.21,-13.39),(4.24,-13.84),(4.26,-12.96),(4.29,-13.48),(4.32,-14.02),(4.35,-13.12),(4.38,-13.63),
          (4.20,-13.93),(4.23,-12.79),(4.27,-14.18),(4.30,-13.37),(4.33,-12.71),(4.36,-13.86),(4.39,-13.24),
          (4.22,-13.57),(4.25,-13.08),(4.28,-13.72),(4.31,-12.88),(4.34,-13.97),(4.37,-13.31),
          (4.41,-13.77),(4.44,-14.23),(4.46,-13.36),(4.49,-13.88),(4.52,-14.41),(4.55,-13.52),(4.58,-14.03),
          (4.40,-14.32),(4.43,-13.18),(4.47,-14.57),(4.50,-13.79),(4.53,-13.09),(4.56,-14.26),(4.59,-13.63),
          (4.42,-13.97),(4.45,-13.47),(4.48,-14.12),(4.51,-13.29),(4.54,-14.37),(4.57,-13.71),
          (4.61,-14.18),(4.64,-14.62),(4.66,-13.74),(4.69,-14.28),(4.72,-14.81),(4.75,-13.91),(4.78,-14.42),
          (4.60,-14.71),(4.63,-13.58),(4.67,-14.96),(4.70,-14.19),(4.73,-13.49),(4.76,-14.66),(4.79,-14.04),
          (4.62,-14.37),(4.65,-13.87),(4.68,-14.52),(4.71,-13.68),(4.74,-14.77),(4.77,-14.11),
          (4.81,-14.57),(4.84,-15.01),(4.86,-14.13),(4.89,-14.68),(4.92,-15.13),(4.95,-14.31),(4.98,-14.82),
          (4.80,-15.07),(4.83,-13.97),(4.87,-14.92),(4.90,-14.54),(4.93,-13.89),(4.96,-15.04),(4.99,-14.43),
          (4.82,-14.76),(4.85,-14.28),(4.88,-14.99),(4.91,-14.07),(4.94,-14.71),(4.97,-14.36)]
scan_outliers = [(-0.77,-7.62),(-0.95,-8.08),(-0.44,-7.53),(-0.11,-9.00),(-0.32,-7.14),(0.38,-10.09),
                 (0.34,-8.67),(0.58,-8.73),(0.20,-9.06),(0.35,-11.40),(1.18,-10.85),(1.19,-11.11),
                 (1.41,-11.03),(1.94,-12.69),(2.02,-13.21),(2.80,-13.91),(2.55,-14.83),(2.97,-14.69),
                 (3.24,-14.56),(0.86,-9.76),(1.01,-10.04),(-0.89,-5.98),(-0.13,-6.53),(-0.18,-6.77),
                 (0.16,-7.14),(0.16,-7.62),(0.10,-7.84),(-0.44,-6.16),(-0.71,-5.90),(-0.80,-5.66),
                 (-0.95,-5.46)]
scan_top_edge = [(-0.95,-4.43),(-0.88,-4.41),(-0.80,-4.44),(-0.72,-4.42),(-0.65,-4.45),(-0.56,-4.40),
                 (-0.47,-4.43),(-0.38,-4.41),(-0.30,-4.46),(-0.22,-4.42),(-0.13,-4.44),(-0.05,-4.41),
                 (0.04,-4.43),(0.12,-4.45),(0.21,-4.42),(0.30,-4.44),(0.38,-4.47)]

x_range_log = (-1.115, 5.115)
y_range_log = (-15.2, -4.45)

# ---------------- figure ----------------
SERIF = "Liberation Serif"

p = figure(width=667, height=595, x_axis_type="log", y_axis_type="log",
           x_range=Range1d(10 ** x_range_log[0], 10 ** x_range_log[1]),
           y_range=Range1d(10 ** y_range_log[0], 10 ** y_range_log[1]),
           output_backend="svg", toolbar_location=None,
           min_border_left=150, min_border_right=27, min_border_top=7, min_border_bottom=97)

p.xgrid.visible = False
p.ygrid.visible = False
p.background_fill_color = "white"
p.border_fill_color = "white"
p.outline_line_color = "#444444"
p.outline_line_width = 1.2

scan = (scan_a + scan_b + scan_c + scan_d + scan_e + scan_f + scan_core_low + scan_core_mid
        + scan_core_high + scan_outliers + scan_top_edge)
scan_m = 10 ** np.array([s[0] for s in scan])
scan_q = 10 ** np.array([s[1] for s in scan])
p.scatter(scan_m, scan_q, size=3, fill_color="#808080", line_color=None, marker="circle")

curve_specs = [
    (xenon1t_log_m, xenon1t_log_q, "#18901a"),
    (xenonnt_log_m, xenonnt_log_q, "#2ef02a"),
    (supercdms_log_m, supercdms_log_q, "#ff8010"),
    (pico60_log_m, pico60_log_q, "#ff10ff"),
    (cresst_log_m, cresst_log_q, "#ff1010"),
]
renderers = []
for lm, lq, col in curve_specs:
    if len(lm):
        xs = list(10 ** np.array(lm, dtype=float))
        ys = list(10 ** np.array(lq, dtype=float))
    else:  # no part of this limit lies inside the plotted window
        xs, ys = [float("nan")], [float("nan")]
    r = p.line(xs, ys, line_color=col, line_width=2.7)
    renderers.append(r)

legend = Legend(items=[LegendItem(label=lab, renderers=[r]) for lab, r in zip(legend_labels, renderers)],
                location="top_right", border_line_alpha=0, background_fill_alpha=0,
                label_text_font=SERIF, label_text_font_size="22px", label_text_color="#111111",
                glyph_width=18, glyph_height=32, label_height=32, spacing=8,
                padding=4, margin=12, label_standoff=9)
p.add_layout(legend)

x_major = [10.0 ** k for k in x_tick_exponents]
y_major = [10.0 ** k for k in y_tick_exponents]
x_minor = [m * 10.0 ** k for k in range(x_tick_exponents[0] - 1, x_tick_exponents[-1] + 1) for m in range(2, 10)]
y_minor = [m * 10.0 ** k for k in range(y_tick_exponents[0] - 1, y_tick_exponents[-1] + 1) for m in range(2, 10)]

def style_axis(ax):
    ax.axis_line_color = "#444444"
    ax.major_tick_line_color = "#444444"
    ax.minor_tick_line_color = "#444444"
    ax.major_tick_in = 11
    ax.major_tick_out = 0
    ax.minor_tick_in = 6
    ax.minor_tick_out = 0
    ax.major_label_text_font = SERIF
    ax.major_label_text_font_style = "bold"
    ax.major_label_text_font_size = "27px"
    ax.major_label_text_color = "#111111"
    ax.axis_label_text_font = SERIF
    ax.axis_label_text_font_style = "normal"
    ax.axis_label_text_font_size = "28px"
    ax.axis_label_text_color = "#222222"

for ax in p.xaxis:
    style_axis(ax)
    ax.ticker = FixedTicker(ticks=x_major, minor_ticks=x_minor)
for ax in p.yaxis:
    style_axis(ax)
    ax.ticker = FixedTicker(ticks=y_major, minor_ticks=y_minor)

p.xaxis.axis_label = "mᵥ [GeV]"
p.yaxis.axis_label = "|Q̃ᵥ/e| [fm²]"
p.xaxis.major_label_standoff = 12
p.yaxis.major_label_standoff = 3
p.xaxis.axis_label_standoff = 16
p.yaxis.axis_label_standoff = 26

blank = CustomJSTickFormatter(code="return ''")
top_ax = LogAxis(formatter=blank, ticker=FixedTicker(ticks=x_major, minor_ticks=x_minor))
right_ax = LogAxis(formatter=blank, ticker=FixedTicker(ticks=y_major, minor_ticks=y_minor))
for ax in (top_ax, right_ax):
    style_axis(ax)
    ax.major_label_standoff = 0
p.add_layout(top_ax, "above")
p.add_layout(right_ax, "right")

open("out.html", "w").write(file_html(p, INLINE))
